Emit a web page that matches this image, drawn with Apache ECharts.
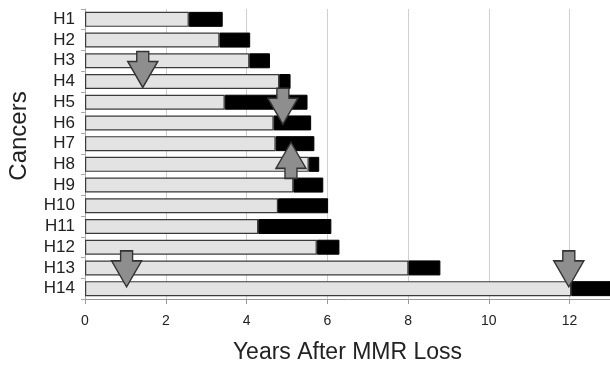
<!DOCTYPE html>
<html>
<head>
<meta charset="utf-8">
<script src="https://cdn.jsdelivr.net/npm/echarts@6/dist/echarts.min.js"></script>
<style>
  html, body { margin: 0; padding: 0; background: #fff; }
  #main { width: 610px; height: 369px; }
</style>
</head>
<body>
<div id="main"></div>
<script>
var cancers = ['H1', 'H2', 'H3', 'H4', 'H5', 'H6', 'H7', 'H8', 'H9', 'H10', 'H11', 'H12', 'H13', 'H14'];
// years until the grey part ends, and total years (end of black part)
var grayEnd = [2.57, 3.33, 4.07, 4.81, 3.46, 4.67, 4.72, 5.54, 5.16, 4.78, 4.29, 5.74, 8.01, 12.04];
var totalEnd = [3.41, 4.09, 4.58, 5.09, 5.51, 5.60, 5.68, 5.80, 5.90, 6.02, 6.10, 6.30, 8.80, 13.5];
var xTicks = [0, 2, 4, 6, 8, 10, 12];

// arrows: x position, row, direction
var arrowX = [1.43, 4.9, 5.1, 1.03, 11.98];
var arrowRow = ['H4', 'H5', 'H8', 'H13', 'H13'];
var arrowUp = [false, false, true, false, false];

var blackPart = [];
for (var i = 0; i < cancers.length; i++) {
  blackPart.push(parseFloat((totalEnd[i] - grayEnd[i]).toFixed(2)));
}

var arrowPath = 'path://M9,0 L21,0 L21,10 L30,10 L15,36 L0,10 L9,10 Z';
var arrowShift = [-12, 4, -4, 1, 1];
var arrows = [];
for (var i = 0; i < arrowX.length; i++) {
  arrows.push({
    coord: [arrowX[i], arrowRow[i]],
    symbolRotate: arrowUp[i] ? 180 : 0,
    symbolOffset: [0, arrowShift[i]]
  });
}

var myChart = echarts.init(document.getElementById('main'));
var option = {
  animation: false,
  grid: { left: 85, right: 0, top: 9, bottom: 66 },
  xAxis: {
    type: 'value',
    min: 0,
    max: 13,
    interval: 2,
    name: 'Years After MMR Loss',
    nameLocation: 'middle',
    nameGap: 42,
    nameTextStyle: { fontFamily: 'Liberation Sans', fontSize: 23, color: '#222' },
    axisLine: { show: true, lineStyle: { color: '#999' } },
    axisTick: { show: true, length: 5, lineStyle: { color: '#999' }, customValues: xTicks },
    axisLabel: {
      fontFamily: 'Liberation Sans', fontSize: 14, color: '#222', margin: 15,
      customValues: xTicks
    },
    splitLine: { show: true, lineStyle: { color: '#cfcfcf' } }
  },
  yAxis: {
    type: 'category',
    data: cancers,
    inverse: true,
    axisLine: { show: true, lineStyle: { color: '#aaa' } },
    axisTick: { show: true, length: 4, interval: 0, lineStyle: { color: '#aaa' } },
    axisLabel: { interval: 0, fontFamily: 'Liberation Sans', fontSize: 17, color: '#222', margin: 10 }
  },
  graphic: [{
    type: 'text',
    x: 19, y: 136,
    rotation: Math.PI / 2,
    style: {
      text: 'Cancers',
      fontFamily: 'Liberation Sans', fontSize: 24, fill: '#222',
      align: 'center', verticalAlign: 'middle'
    }
  }],
  series: [
    {
      name: 'gray',
      type: 'bar',
      stack: 'total',
      barWidth: 15,
      data: grayEnd,
      itemStyle: { color: '#e3e3e3', borderColor: '#3a3a3a', borderWidth: 1.2 }
    },
    {
      name: 'black',
      type: 'bar',
      stack: 'total',
      barWidth: 15,
      clip: true,
      data: blackPart,
      itemStyle: { color: '#000', borderColor: '#000', borderWidth: 1 },
      markPoint: {
        z: 10,
        symbol: arrowPath,
        symbolSize: [30, 36],
        symbolKeepAspect: false,
        label: { show: false },
        itemStyle: { color: '#8e8e8e', borderColor: '#333', borderWidth: 1.5 },
        data: arrows
      }
    }
  ]
};
myChart.setOption(option);
</script>
</body>
</html>
